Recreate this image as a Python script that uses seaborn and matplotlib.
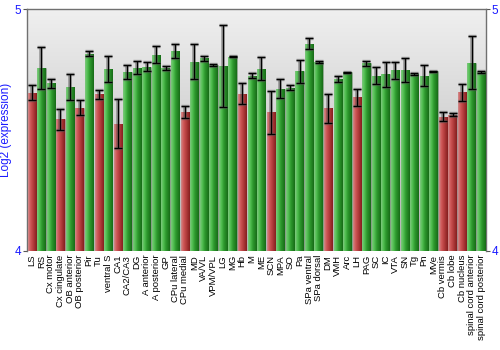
import numpy as np
import pandas as pd
import matplotlib
matplotlib.use("Agg")
import matplotlib.pyplot as plt
import seaborn as sns

regions = ["LS", "RS", "Cx motor", "Cx cingulate", "OB anterior", "OB posterior",
           "Pir", "Tu", "ventral S", "CA1", "CA2/CA3", "DG", "A anterior",
           "A posterior", "GP", "CPu lateral", "CPu medial", "MD", "VA/VL",
           "VPM/VPL", "LG", "MG", "Hb", "M", "ME", "SCN", "MPA", "SO", "Pa",
           "SPa ventral", "SPa dorsal", "DM", "VMH", "Arc", "LH", "PAG", "SC",
           "IC", "VTA", "SN", "Tg", "Pn", "MVe", "Cb vermis", "Cb lobe",
           "Cb nucleus", "spinal cord anterior", "spinal cord posterior"]

expression = [4.655, 4.758, 4.693, 4.544, 4.678, 4.593, 4.817, 4.649, 4.752,
              4.527, 4.741, 4.759, 4.763, 4.813, 4.757, 4.827, 4.575, 4.784,
              4.797, 4.769, 4.765, 4.804, 4.650, 4.725, 4.755, 4.573, 4.671,
              4.675, 4.743, 4.858, 4.783, 4.590, 4.712, 4.739, 4.635, 4.776,
              4.726, 4.732, 4.747, 4.750, 4.733, 4.725, 4.744, 4.556, 4.564,
              4.656, 4.780, 4.739]

sem = [0.030, 0.086, 0.020, 0.045, 0.054, 0.031, 0.012, 0.019, 0.054, 0.102,
       0.030, 0.026, 0.018, 0.034, 0.008, 0.029, 0.024, 0.073, 0.010, 0.004,
       0.170, 0.003, 0.044, 0.010, 0.047, 0.090, 0.040, 0.010, 0.047, 0.024,
       0.004, 0.059, 0.013, 0.003, 0.035, 0.010, 0.035, 0.052, 0.037, 0.050,
       0.004, 0.044, 0.002, 0.019, 0.007, 0.035, 0.108, 0.004]

low_regions = {"LS", "Cx cingulate", "OB posterior", "Tu", "CA1", "CPu medial",
               "Hb", "SCN", "DM", "LH", "Cb vermis", "Cb lobe", "Cb nucleus"}

df = pd.DataFrame({"region": regions, "expression": expression, "sem": sem})
df["group"] = ["low" if r in low_regions else "high" for r in regions]

RED = "#b83a3a"
GREEN = "#2e9e2e"
shades = {
    "low": [(0.80, 0.55, 0.55), (0.82, 0.36, 0.36), (0.72, 0.25, 0.25), (0.52, 0.12, 0.12)],
    "high": [(0.50, 0.78, 0.50), (0.33, 0.76, 0.33), (0.18, 0.60, 0.18), (0.09, 0.42, 0.09)],
}

fig = plt.figure(figsize=(5, 3.5), dpi=100)
ax = fig.add_axes([0.054, 0.284, 0.918, 0.689])

sns.barplot(data=df, x="region", y="expression", hue="group",
            palette={"low": RED, "high": GREEN}, dodge=False, width=0.87,
            legend=False, errorbar=None, ax=ax, zorder=2)

ax.set_ylim(4, 5)
ax.set_xlim(-0.5, len(regions) - 0.5)

# vertical background gradient
bg = np.linspace(0.94, 0.70, 200)[:, None] * np.ones((1, 2))
ax.imshow(np.dstack([bg, bg, bg]), extent=(-0.5, len(regions) - 0.5, 4, 5),
          aspect="auto", origin="upper", zorder=0)

# cylinder-style shading on every bar (matched to its category by position)
xs = np.linspace(0, 1, 64)
pos = np.array([0.0, 0.25, 0.55, 1.0])
for patch in ax.patches:
    x0 = patch.get_x()
    w = patch.get_width()
    h = patch.get_height()
    idx = int(round(x0 + w / 2))
    grp = df["group"].iloc[idx]
    stops = np.array(shades[grp])
    grad = np.stack([np.interp(xs, pos, stops[:, c]) for c in range(3)], axis=-1)[None, :, :]
    im = ax.imshow(grad, extent=(x0, x0 + w, 4, h), aspect="auto", zorder=3)
    im.set_clip_path(patch)
    patch.set_edgecolor((0.6, 0.6, 0.6, 0.5))
    patch.set_linewidth(0.6)

# error bars: soft grey halo under a black whisker
xpos = np.arange(len(regions))
ax.errorbar(xpos, df["expression"], yerr=df["sem"], fmt="none",
            ecolor=(0.35, 0.35, 0.35, 0.55), elinewidth=2.6, capsize=3.0,
            capthick=2.4, zorder=4)
ax.errorbar(xpos, df["expression"], yerr=df["sem"], fmt="none",
            ecolor="black", elinewidth=0.9, capsize=2.6, capthick=0.9, zorder=5)

ax.set_xlabel("")
ax.set_ylabel("Log2 (expression)", color="#1a1aff", fontsize=8.5,
              family="Liberation Sans", labelpad=2)
ax.set_yticks([4, 5])
ax.set_yticklabels(["4", "5"], color="#1a1aff", fontsize=8.5, family="Liberation Sans")
ax.tick_params(axis="y", left=True, right=True, labelleft=True, labelright=True,
               length=3, width=0.8, color="#555555", pad=1)
ax.set_xticks(xpos)
ax.set_xticklabels(regions, rotation=90, fontsize=6.8, family="Liberation Sans")
ax.tick_params(axis="x", length=0, pad=3)

for side in ("left", "top", "right"):
    ax.spines[side].set_color("#707070")
    ax.spines[side].set_linewidth(1.0)
ax.spines["bottom"].set_visible(False)

fig.savefig("out.png", dpi=100)
